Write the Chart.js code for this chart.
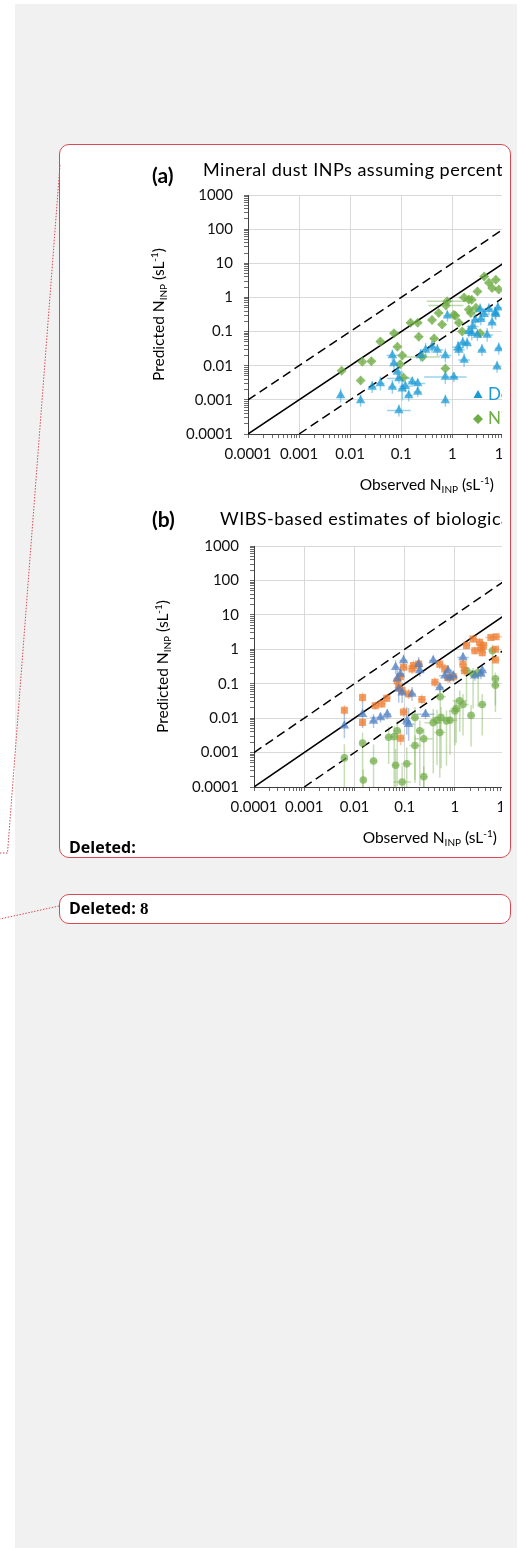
<!DOCTYPE html>
<html>
<head>
<meta charset="utf-8">
<script src="https://cdn.jsdelivr.net/npm/chart.js@4.4.1/dist/chart.umd.min.js"></script>
<style>
  html, body { margin: 0; padding: 0; background: #fff; }
  body { width: 521px; height: 1548px; position: relative; overflow: hidden; font-family: Lato, sans-serif; }
  .pane { position: absolute; left: 15px; top: 4px; width: 502px; height: 1544px; background: #f1f1f1; }
  .balloon { position: absolute; left: 59px; width: 452px; background: #fff; border: 1px solid #d64b53; border-radius: 10px; box-sizing: border-box; }
  #box1 { top: 144px; height: 714px; }
  #box2 { top: 894px; height: 30px; }
  .clip { position: absolute; left: 0; top: 0; width: 442px; height: 100%; overflow: hidden; }
  .clip canvas { position: absolute; left: 70px; }
  #chartA { top: 5px; }
  #chartB { top: 355px; }
  .del { position: absolute; left: 9px; font: bold 16px "Open Sans", sans-serif; color: #000; line-height: 16px; white-space: nowrap; }
  .del b { font-family: "Liberation Serif", serif; font-size: 17px; }
  svg { position: absolute; left: 0; top: 0; }
</style>
</head>
<body>
<div class="pane"></div>
<div class="balloon" id="box1">
  <div class="clip">
    <canvas id="chartA" width="500" height="350"></canvas>
    <canvas id="chartB" width="500" height="350"></canvas>
  </div>
  <div class="del" style="top:694px">Deleted:</div>
</div>
<div class="balloon" id="box2">
  <div class="del" style="top:5px">Deleted: <b>8</b></div>
</div>
<svg width="521" height="1548">
  <polyline points="60,165 7.5,853 0,853" fill="none" stroke="#d64b53" stroke-width="1" stroke-dasharray="1.5 1.5"/>
  <polyline points="59,906 0,919" fill="none" stroke="#d64b53" stroke-width="1" stroke-dasharray="1.5 1.5"/>
</svg>
<script>
// both panels share the same log-log range
const expMin = -4, expMax = 3;
const tickLabels = ['0.0001', '0.001', '0.01', '0.1', '1', '10', '100', '1000'];
// 1:1 line and the factor-of-ten band
const ratios = [1, 10, 0.1];

// (a) mineral dust, DeMott et al. (2015)
const dmX = [0.0065, 0.016, 0.027, 0.039, 0.067, 0.072, 0.084, 0.09, 0.105, 0.12, 0.164, 0.21, 0.24, 0.30, 0.40, 0.51,
  0.73, 0.73, 0.73, 1.07, 1.34, 1.7, 1.95, 2.4, 2.8, 3.5, 3.8, 4.8, 6.0, 6.9, 7.5, 8.1, 0.09, 0.14, 0.21, 0.067,
  0.8, 2.1, 2.5, 3.1, 3.6, 4.2, 5.2, 7.1, 7.8, 1.6, 1.3];
const dmY = [0.00135, 0.00095, 0.0024, 0.003, 0.02, 0.0117, 0.0066, 0.0042, 0.0021, 0.0025, 0.0034, 0.003, 0.02, 0.029, 0.036, 0.029,
  0.02, 0.0047, 0.00095, 0.0047, 0.029, 0.0146, 0.045, 0.089, 0.22, 0.44, 0.029, 0.08, 0.18, 0.35, 0.0093, 0.032, 0.00049, 0.00135, 0.0017, 0.0024,
  0.29, 0.1, 0.14, 0.08, 0.23, 0.32, 0.45, 0.32, 0.5, 0.047, 0.035];
const dmXErr = [1.1, 1.1, 1.2, 1.2, 1.3, 1.2, 1.3, 1.7, 1.2, 1.3, 1.2, 1.4, 1.3, 1.3, 1.2, 1.3,
  1.3, 2.6, 1.1, 1.2, 1.3, 1.3, 1.2, 1.3, 1.2, 1.2, 1.2, 1.3, 1.2, 1.2, 1.2, 1.2, 1.7, 1.2, 1.2, 1.2,
  1.2, 1.2, 1.3, 1.2, 1.2, 1.2, 1.2, 1.2, 1.2, 1.3, 1.3];
const dmYErr = [1.6, 1.5, 1.5, 1.6, 1.5, 1.6, 1.8, 1.4, 2.2, 1.5, 1.4, 1.4, 1.5, 1.6, 1.5, 1.5,
  1.6, 1.6, 1.5, 1.4, 1.5, 1.6, 1.5, 1.6, 1.5, 1.5, 1.5, 1.6, 1.5, 1.5, 1.5, 1.5, 1.5, 1.5, 1.4, 1.6,
  1.5, 1.5, 1.5, 1.5, 1.5, 1.5, 1.5, 1.5, 1.5, 1.5, 1.5];

// (a) mineral dust, Niemand et al. (2012)
const niX = [0.0068, 0.016, 0.0173, 0.026, 0.039, 0.072, 0.084, 0.105, 0.152, 0.21, 0.22, 0.26, 0.40, 0.44, 0.54, 0.63,
  0.73, 0.79, 1.07, 1.34, 1.56, 2.1, 2.4, 3.5, 1.7, 3.1, 4.2, 5.2, 7.1, 8.1, 2.9, 2.1, 2.3, 0.75, 1.15, 6.0, 0.095, 0.11];
const niY = [0.0071, 0.0037, 0.013, 0.0136, 0.051, 0.089, 0.036, 0.02, 0.18, 0.18, 0.071, 0.018, 0.22, 0.063, 0.35, 0.16,
  0.0083, 0.77, 0.31, 0.18, 0.1, 0.44, 0.86, 0.089, 1.0, 1.5, 4.1, 2.7, 3.3, 1.7, 0.5, 0.87, 0.35, 0.58, 0.29, 1.9, 0.011, 0.0045];
const niXErr = [1.1, 1.1, 1.1, 1.2, 1.2, 1.2, 1.2, 1.2, 1.2, 1.2, 1.2, 2.2, 1.2, 1.2, 1.2, 1.2,
  1.2, 2.5, 1.2, 1.2, 1.2, 1.2, 1.2, 1.2, 1.3, 1.2, 1.2, 1.2, 1.2, 1.2, 1.2, 1.2, 1.2, 2.2, 1.2, 1.2, 1.2, 1.3];
const niYErr = [1.3, 1.3, 1.3, 1.3, 1.3, 1.3, 1.3, 1.3, 1.3, 1.3, 1.3, 1.3, 1.3, 1.3, 1.3, 1.3,
  1.3, 1.3, 1.3, 1.3, 1.3, 1.3, 1.3, 1.3, 1.3, 1.3, 1.3, 1.3, 1.3, 1.3, 1.3, 1.3, 1.3, 1.3, 1.3, 1.3, 1.3, 1.3];

// (b) WIBS fluorescent classes
const wbX = [0.0063, 0.0145, 0.024, 0.033, 0.045, 0.066, 0.071, 0.082, 0.076, 0.089, 0.095, 0.11, 0.12, 0.14,
  0.19, 0.2, 0.26, 0.37, 0.5, 0.63, 0.73, 0.79, 0.93, 1.45, 2.5, 3.3, 3.5];
const wbY = [0.006, 0.013, 0.0083, 0.0105, 0.013, 0.3, 0.14, 0.19, 0.07, 0.055, 0.47, 0.0083, 0.0066, 0.05,
  0.37, 0.24, 0.013, 0.47, 0.077, 0.17, 0.24, 0.15, 0.17, 0.58, 0.17, 0.19, 0.24];
const wbXErr = [1.1, 1.1, 1.2, 1.6, 1.2, 1.1, 1.1, 1.2, 1.1, 1.2, 1.2, 1.2, 1.3, 1.2,
  1.2, 1.3, 1.5, 1.2, 1.2, 1.3, 1.2, 1.2, 1.2, 1.3, 1.2, 1.2, 1.2];
const wbYErr = [2.3, 2.5, 1.6, 1.4, 1.4, 1.6, 1.8, 1.6, 2.5, 2.0, 1.5, 2.5, 3, 1.6,
  1.6, 1.5, 1.4, 1.4, 1.4, 1.4, 1.4, 1.4, 1.4, 1.4, 1.4, 1.4, 1.4];

const orX = [0.0063, 0.0145, 0.0145, 0.026, 0.035, 0.044, 0.071, 0.076, 0.082, 0.089, 0.095, 0.12, 0.095, 0.083,
  0.14, 0.15, 0.19, 0.22, 0.4, 0.5, 0.63, 0.73, 0.93, 1.55, 1.45, 1.7, 2.3, 2.5, 3.1, 3.3, 3.5, 3.7, 5.2, 6.6, 6.4, 6.4];
const orY = [0.017, 0.04, 0.0075, 0.023, 0.026, 0.038, 0.12, 0.079, 0.16, 0.063, 0.30, 0.05, 0.015, 0.0026,
  0.27, 0.34, 0.37, 0.035, 0.11, 0.37, 0.27, 0.15, 0.16, 0.24, 0.37, 1.3, 2.0, 0.91, 1.6, 1.1, 0.8, 1.3, 2.2, 2.3, 1.0, 0.49];
const orXErr = [1.1, 1.1, 1.1, 1.2, 1.2, 1.2, 1.2, 1.2, 1.2, 1.2, 1.2, 1.2, 1.2, 1.2,
  1.3, 1.2, 1.2, 1.2, 1.2, 1.2, 1.2, 1.2, 1.2, 1.2, 1.2, 1.2, 1.2, 1.2, 1.2, 1.2, 1.2, 1.2, 1.3, 1.3, 1.2, 1.2];
const orYErr = [1.4, 1.4, 1.3, 1.3, 1.3, 1.3, 1.4, 1.4, 1.4, 1.4, 1.4, 1.4, 1.4, 1.6,
  1.4, 1.4, 1.4, 1.4, 1.4, 1.4, 1.4, 1.4, 1.4, 1.4, 1.4, 1.3, 1.3, 1.3, 1.3, 1.3, 1.3, 1.3, 1.2, 1.2, 1.2, 1.2];

const grX = [0.0063, 0.0145, 0.015, 0.024, 0.048, 0.062, 0.066, 0.071, 0.089, 0.11, 0.16, 0.16, 0.2, 0.24, 0.24,
  0.37, 0.44, 0.5, 0.53, 0.51, 0.68, 0.8, 1.0, 1.06, 1.25, 1.45, 2.1, 2.3, 2.9, 3.5, 1.7, 5.6, 6.4, 6.4];
const grY = [0.0007, 0.0019, 0.00016, 0.00057, 0.0028, 0.0029, 0.00043, 0.0043, 0.00014, 0.00047, 0.0105, 0.0016, 0.0043, 0.0025, 0.0002,
  0.0074, 0.0087, 0.0038, 0.0105, 0.042, 0.0083, 0.0087, 0.016, 0.019, 0.032, 0.025, 0.012, 0.19, 0.21, 0.025, 0.24, 0.9, 0.14, 0.09];
const grXErr = [1.1, 1.1, 1.1, 1.2, 1.2, 1.2, 1.2, 1.2, 1.5, 1.3, 1.2, 1.3, 1.2, 1.5, 1.2,
  1.5, 1.3, 1.3, 1.5, 1.3, 1.2, 1.4, 1.3, 1.3, 1.4, 1.3, 1.2, 1.3, 1.3, 1.2, 1.3, 1.2, 1.2, 1.2];
// [down, up] factors: the lower bounds reach far below the markers
const grYErr = [[20, 2.5], [20, 2], [3, 2], [6, 3], [6, 2], [30, 2], [5, 3], [40, 2], [2, 3], [5, 3], [80, 2], [10, 2], [40, 2], [25, 2], [2, 2],
  [30, 2.5], [20, 2], [20, 2], [30, 2], [10, 2], [20, 2], [10, 2], [10, 2], [10, 2], [8, 2], [8, 2], [8, 2], [10, 1.5], [10, 1.5], [8, 2], [8, 1.5], [6, 1.5], [6, 1.5], [6, 1.5]];

const FONT = 'Lato, sans-serif';

function logTicks() {
  const t = [];
  for (let e = expMin; e < expMax; e++) {
    for (let m = 1; m < 10; m++) t.push({ value: m * Math.pow(10, e), major: m === 1 });
  }
  t.push({ value: Math.pow(10, expMax), major: true });
  return t;
}

function axis(extra) {
  return Object.assign({
    type: 'logarithmic',
    min: Math.pow(10, expMin),
    max: Math.pow(10, expMax),
    afterBuildTicks: s => { s.ticks = logTicks(); },
    grid: {
      color: c => (c.tick && c.tick.major ? '#d9d9d9' : 'rgba(0,0,0,0)'),
      tickColor: '#6b6b6b',
      tickLength: 4,
      lineWidth: 1
    },
    border: { color: '#404040', width: 1 },
    ticks: {
      autoSkip: false,
      maxRotation: 0,
      color: '#111',
      font: { family: FONT, size: 15 },
      callback: (v, i, ticks) => (ticks[i].major ? tickLabels[Math.round(Math.log10(v)) - expMin] : '')
    }
  }, extra);
}

// parts: [text, size, baseline shift, weight, letter spacing]
function put(ctx, parts, x, y, align) {
  const fontOf = p => { ctx.font = (p[3] || '') + ' ' + p[1] + 'px ' + FONT; ctx.letterSpacing = (p[4] || 0) + 'px'; };
  let w = 0;
  parts.forEach(p => { fontOf(p); w += ctx.measureText(p[0]).width; });
  let cx = align === 'center' ? x - w / 2 : x;
  parts.forEach(p => {
    fontOf(p);
    ctx.fillText(p[0], cx, y + p[2]);
    cx += ctx.measureText(p[0]).width;
  });
  ctx.letterSpacing = '0px';
}

function unitParts(word) {
  return [[word + ' N', 15.5, 0], ['INP', 10, 3], [' (sL', 15.5, 0], ['-1', 10, -6], [')', 15.5, 0]];
}

function marker(ctx, style, x, y, r) {
  ctx.beginPath();
  if (style === 'triangle') {
    ctx.moveTo(x, y - r); ctx.lineTo(x + r * 0.9, y + r * 0.6); ctx.lineTo(x - r * 0.9, y + r * 0.6);
  } else {
    ctx.moveTo(x, y - r); ctx.lineTo(x + r, y); ctx.lineTo(x, y + r); ctx.lineTo(x - r, y);
  }
  ctx.closePath();
  ctx.fill();
}

// error bars as log factors around each point
const errorBars = {
  id: 'errorBars',
  beforeDatasetsDraw(chart) {
    const { ctx, chartArea, scales } = chart;
    ctx.save();
    ctx.beginPath();
    ctx.rect(chartArea.left, chartArea.top, chartArea.width, chartArea.height);
    ctx.clip();
    chart.data.datasets.forEach(ds => {
      if (!ds.xErr) return;
      ctx.strokeStyle = ds.barColor;
      ctx.lineWidth = 1.5;
      ds.data.forEach((p, i) => {
        const fx = ds.xErr[i];
        const fy = Array.isArray(ds.yErr[i]) ? ds.yErr[i] : [ds.yErr[i], ds.yErr[i]];
        const px = scales.x.getPixelForValue(p.x);
        const py = scales.y.getPixelForValue(p.y);
        ctx.beginPath();
        ctx.moveTo(scales.x.getPixelForValue(p.x / fx), py);
        ctx.lineTo(scales.x.getPixelForValue(p.x * fx), py);
        ctx.moveTo(px, scales.y.getPixelForValue(p.y / fy[0]));
        ctx.lineTo(px, scales.y.getPixelForValue(p.y * fy[1]));
        ctx.stroke();
      });
    });
    ctx.restore();
  }
};

// panel letter, title, axis titles and the in-plot legend
const panelText = {
  id: 'panelText',
  afterDraw(chart, args, o) {
    const { ctx, chartArea } = chart;
    ctx.save();
    ctx.fillStyle = '#000';
    ctx.textBaseline = 'alphabetic';
    put(ctx, [[o.letter, 21, 0, 'bold']], o.letterAt[0], o.letterAt[1]);
    put(ctx, [[o.title, 18, 0, '', 0.5]], o.titleAt[0], o.titleAt[1]);
    put(ctx, unitParts('Observed'), (chartArea.left + chartArea.right) / 2, chartArea.bottom + o.xTitleGap, 'center');
    ctx.translate(chartArea.left - o.yTitleGap, (chartArea.top + chartArea.bottom) / 2);
    ctx.rotate(-Math.PI / 2);
    put(ctx, unitParts('Predicted'), 0, 0, 'center');
    ctx.restore();
    if (!o.legendAt) return;
    ctx.save();
    ctx.textBaseline = 'middle';
    chart.data.datasets.filter(d => d.xErr).forEach((d, i) => {
      const x = chartArea.left + o.legendAt[0];
      const y = chartArea.top + o.legendAt[1] + i * 24;
      ctx.fillStyle = d.legendColor;
      marker(ctx, d.pointStyle, x, y, 5);
      put(ctx, [[d.label, 17, 0]], x + 10, y);
    });
    ctx.restore();
  }
};

function series(label, xs, ys, xe, ye, style, radius, fill, bar, legendColor) {
  return {
    label, xErr: xe, yErr: ye, barColor: bar, legendColor,
    data: xs.map((x, i) => ({ x, y: ys[i] })),
    pointStyle: style, pointRadius: radius, pointBorderWidth: 0,
    backgroundColor: fill, borderColor: fill, order: 1
  };
}

function ratioLines() {
  const lo = Math.pow(10, expMin), hi = Math.pow(10, expMax);
  return ratios.map(r => ({
    label: r === 1 ? '1:1' : 'x' + r,
    data: [{ x: Math.max(lo, lo / r), y: Math.max(lo, lo / r) * r }, { x: Math.min(hi, hi / r), y: Math.min(hi, hi / r) * r }],
    showLine: true, pointRadius: 0, borderColor: '#000', borderWidth: 1.5,
    borderDash: r === 1 ? [] : [9, 5], order: 2
  }));
}

function panel(id, sets, pad, yWidth, text) {
  new Chart(document.getElementById(id), {
    type: 'scatter',
    data: { datasets: sets.concat(ratioLines()) },
    options: {
      responsive: false,
      animation: false,
      devicePixelRatio: 1,
      layout: { padding: pad },
      events: [],
      scales: {
        x: axis({ position: 'bottom', afterFit: s => { s.height = 40; }, ticks: Object.assign(axis().ticks, { padding: 7 }) }),
        y: axis({ position: 'left', afterFit: s => { s.width = yWidth; }, ticks: Object.assign(axis().ticks, { padding: 11 }) })
      },
      plugins: { legend: { display: false }, tooltip: { enabled: false }, panelText: text }
    },
    plugins: [errorBars, panelText]
  });
}

panel('chartA', [
  series('DeMott et al. (2015)', dmX, dmY, dmXErr, dmYErr, 'triangle', 5.5, 'rgba(27,154,214,0.72)', 'rgba(27,154,214,0.45)', '#1b9ad6'),
  series('Niemand et al. (2012)', niX, niY, niXErr, niYErr, 'rectRot', 5, 'rgba(112,173,71,0.75)', 'rgba(112,173,71,0.45)', '#70ad47')
], { left: 0, top: 45, right: 21.5, bottom: 26 }, 118, {
  letter: '(a)', letterAt: [22, 33],
  title: 'Mineral dust INPs assuming percent dust contribution', titleAt: [73, 26],
  xTitleGap: 56, yTitleGap: 84, legendAt: [230, 200]
});

panel('chartB', [
  series('WIBS class A', wbX, wbY, wbXErr, wbYErr, 'triangle', 5.5, 'rgba(78,128,196,0.72)', 'rgba(78,128,196,0.45)', '#4e80c4'),
  series('WIBS class B', orX, orY, orXErr, orYErr, 'rect', 5, 'rgba(237,125,49,0.75)', 'rgba(237,125,49,0.45)', '#ed7d31'),
  series('WIBS class C', grX, grY, grXErr, grYErr, 'circle', 3.8, 'rgba(112,173,71,0.7)', 'rgba(112,173,71,0.4)', '#70ad47')
], { left: 0, top: 46, right: 19, bottom: 23 }, 124, {
  letter: '(b)', letterAt: [22, 27],
  title: 'WIBS-based estimates of biological INPs', titleAt: [90, 25],
  xTitleGap: 56, yTitleGap: 86
});
</script>
</body>
</html>
